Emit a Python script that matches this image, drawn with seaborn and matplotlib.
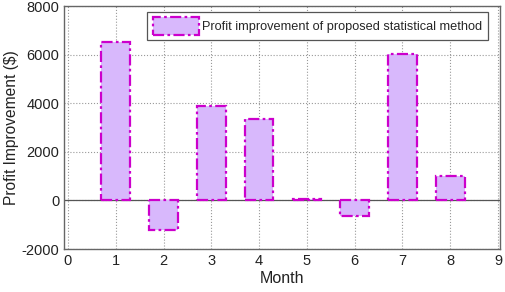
"""Profit improvement per month bar chart."""
import numpy as np
import pandas as pd
import matplotlib
matplotlib.use("Agg")
import matplotlib.pyplot as plt
from matplotlib.patches import Patch
import seaborn as sns

months = [1, 2, 3, 4, 5, 6, 7, 8]
profit = [6510, -1200, 3870, 3340, 50, -620, 6030, 1020]
legend_label = "Profit improvement of proposed statistical method"

fill_col = "#d8b8fc"
edge_col = "#cc00cc"

sns.set_style("white")
plt.rcParams["font.family"] = ["Liberation Sans", "DejaVu Sans"]
plt.rcParams["axes.unicode_minus"] = False

df = pd.DataFrame({"Month": months, "Profit": profit})

fig = plt.figure(figsize=(5.05, 2.92), dpi=100)
ax = fig.add_axes([0.127, 0.147, 0.864, 0.832])

sns.barplot(data=df, x="Month", y="Profit", native_scale=True, width=0.6,
            color=fill_col, saturation=1, ax=ax, zorder=3)
for p in ax.patches:
    p.set_facecolor(fill_col)
    p.set_edgecolor(edge_col)
    p.set_linewidth(1.6)
    p.set_linestyle((0, (5, 1.5, 1.2, 1.5)))

ax.axhline(0, color="#555555", lw=0.9, zorder=2)

ax.set_xlim(-0.08, 9.05)
ax.set_ylim(-2000, 8000)
ax.set_xticks(np.arange(0, 10))
ax.set_yticks(np.arange(-2000, 8001, 2000))
ax.grid(True, color="#999999", linestyle=":", linewidth=0.8, zorder=0)
ax.set_axisbelow(True)

for s in ax.spines.values():
    s.set_visible(True)
    s.set_color("#666666")
    s.set_linewidth(1.0)

ax.tick_params(labelsize=10.5, colors="#222222", direction="in", length=3,
               color="#666666")
ax.set_xlabel("Month", fontsize=11.5, color="#222222", labelpad=2)
ax.set_ylabel("Profit Improvement ($)", fontsize=11.2, color="#222222")
ax.yaxis.set_label_coords(-0.103, 0.5)

handle = Patch(facecolor=fill_col, edgecolor=edge_col,
               linestyle=(0, (5, 1.5, 1.2, 1.5)), linewidth=1.6)
leg = ax.legend([handle], [legend_label], loc="upper right",
                bbox_to_anchor=(0.972, 0.977), fancybox=False, framealpha=1,
                edgecolor="#555555", fontsize=9.2, handlelength=3.6, handleheight=1.7,
                borderpad=0.45, handletextpad=0.25, borderaxespad=0)
leg.get_frame().set_linewidth(0.9)

fig.savefig("out.png", dpi=100)
